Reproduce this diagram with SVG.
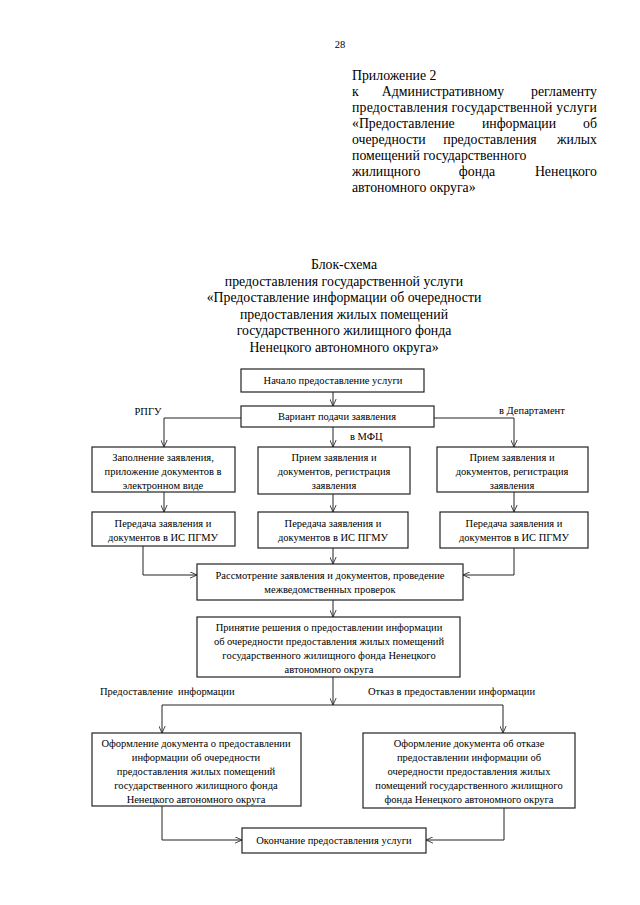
<svg xmlns="http://www.w3.org/2000/svg" width="640" height="905" viewBox="0 0 640 905">
<style>
  text { font-family: "Liberation Serif", "Times New Roman", serif; fill: #000; }
  .hd { font-size: 13.8px; }
  .t { font-size: 10.5px; text-anchor: middle; }
  .lbl { font-size: 10.5px; }
  .box { fill: #fff; stroke: #222; stroke-width: 1.2; }
  .ln { fill: none; stroke: #222; stroke-width: 1; }
  .c { text-anchor: middle; }
  .e { text-anchor: end; }
</style>
<defs>
  <marker id="arr" viewBox="0 0 10 10" refX="10" refY="5" markerWidth="7" markerHeight="7" orient="auto" markerUnits="userSpaceOnUse">
    <path d="M0,0.5 L10,5 L0,9.5" fill="none" stroke="#222" stroke-width="1.2"/>
  </marker>
</defs>
<rect width="640" height="905" fill="#fff"/>

<text x="340" y="48" class="c" style="font-size:10.5px">28</text>

<g id="appendix" class="hd">
  <text x="352" y="80">Приложение 2</text>
  <text x="352" y="96">к</text>
  <text x="443" y="96" class="c">Административному</text>
  <text x="597" y="96" class="e">регламенту</text>
  <text x="352" y="112" textLength="245" lengthAdjust="spacing">предоставления государственной услуги</text>
  <text x="352" y="128">«Предоставление</text>
  <text x="519" y="128" class="c">информации</text>
  <text x="597" y="128" class="e">об</text>
  <text x="352" y="144">очередности</text>
  <text x="490" y="144" class="c">предоставления</text>
  <text x="597" y="144" class="e">жилых</text>
  <text x="352" y="160">помещений государственного</text>
  <text x="352" y="176">жилищного</text>
  <text x="477" y="176" class="c">фонда</text>
  <text x="597" y="176" class="e">Ненецкого</text>
  <text x="352" y="192">автономного округа»</text>
</g>

<g id="title" class="hd c">
  <text x="344" y="269">Блок-схема</text>
  <text x="344" y="286">предоставления государственной услуги</text>
  <text x="344" y="302">«Предоставление информации об очередности</text>
  <text x="344" y="319">предоставления жилых помещений</text>
  <text x="344" y="335">государственного жилищного фонда</text>
  <text x="344" y="352">Ненецкого автономного округа»</text>
</g>

<g id="connectors">
  <path class="ln" d="M333,392 V406" marker-end="url(#arr)"/>
  <path class="ln" d="M241,418 H164 V447" marker-end="url(#arr)"/>
  <path class="ln" d="M333,427 V447" marker-end="url(#arr)"/>
  <path class="ln" d="M434,418 H514 V447" marker-end="url(#arr)"/>
  <path class="ln" d="M164,492 V512" marker-end="url(#arr)"/>
  <path class="ln" d="M333,494 V512" marker-end="url(#arr)"/>
  <path class="ln" d="M514,492 V512" marker-end="url(#arr)"/>
  <path class="ln" d="M143,546 V575 H197" marker-end="url(#arr)"/>
  <path class="ln" d="M333,548 V564" marker-end="url(#arr)"/>
  <path class="ln" d="M514,548 V575 H463" marker-end="url(#arr)"/>
  <path class="ln" d="M333,600 V617" marker-end="url(#arr)"/>
  <path class="ln" d="M333,677 V705" marker-end="url(#arr)"/>
  <path class="ln" d="M162,705 H503"/>
  <path class="ln" d="M162,705 V733" marker-end="url(#arr)"/>
  <path class="ln" d="M503,705 V733" marker-end="url(#arr)"/>
  <path class="ln" d="M162,806 V840 H242" marker-end="url(#arr)"/>
  <path class="ln" d="M504,808 V840 H426" marker-end="url(#arr)"/>
  <text x="148" y="415" class="lbl c">РПГУ</text>
  <text x="499" y="414" class="lbl">в Департамент</text>
  <text x="350" y="440" class="lbl">в МФЦ</text>
  <text x="100" y="695" class="lbl" xml:space="preserve">Предоставление  информации</text>
  <text x="368" y="695" class="lbl">Отказ в предоставлении информации</text>
</g>

<g id="start">
  <rect class="box" x="241" y="369" width="183" height="23"/>
  <text x="333" y="384" class="t">Начало предоставление услуги</text>
</g>
<g id="variant">
  <rect class="box" x="241" y="406" width="193" height="21"/>
  <text x="337" y="420" class="t">Вариант подачи заявления</text>
</g>

<g id="fill-left">
  <rect class="box" x="92" y="447" width="143" height="45"/>
  <text x="163" y="461" class="t">Заполнение заявления,</text>
  <text x="163" y="475" class="t">приложение документов в</text>
  <text x="163" y="489" class="t">электронном виде</text>
</g>
<g id="recv-mid">
  <rect class="box" x="258" y="447" width="152" height="47"/>
  <text x="334" y="461" class="t">Прием заявления и</text>
  <text x="334" y="475" class="t">документов, регистрация</text>
  <text x="334" y="489" class="t">заявления</text>
</g>
<g id="recv-right">
  <rect class="box" x="437" y="447" width="151" height="45"/>
  <text x="512" y="461" class="t">Прием заявления и</text>
  <text x="512" y="475" class="t">документов, регистрация</text>
  <text x="512" y="489" class="t">заявления</text>
</g>

<g id="send-left">
  <rect class="box" x="92" y="512" width="143" height="34"/>
  <text x="163" y="527" class="t">Передача заявления и</text>
  <text x="163" y="541" class="t">документов в ИС ПГМУ</text>
</g>
<g id="send-mid">
  <rect class="box" x="258" y="512" width="150" height="36"/>
  <text x="333" y="527" class="t">Передача заявления и</text>
  <text x="333" y="541" class="t">документов в ИС ПГМУ</text>
</g>
<g id="send-right">
  <rect class="box" x="440" y="512" width="148" height="36"/>
  <text x="514" y="527" class="t">Передача заявления и</text>
  <text x="514" y="541" class="t">документов в ИС ПГМУ</text>
</g>

<g id="review">
  <rect class="box" x="197" y="564" width="266" height="36"/>
  <text x="330" y="579" class="t">Рассмотрение заявления и документов, проведение</text>
  <text x="330" y="593" class="t">межведомственных проверок</text>
</g>

<g id="decision">
  <rect class="box" x="197" y="617" width="263" height="60"/>
  <text x="329" y="631" class="t">Принятие решения о предоставлении информации</text>
  <text x="329" y="645" class="t">об очередности предоставления жилых помещений</text>
  <text x="329" y="659" class="t">государственного жилищного фонда Ненецкого</text>
  <text x="329" y="673" class="t">автономного округа</text>
</g>

<g id="doc-provide">
  <rect class="box" x="92" y="733" width="209" height="73"/>
  <text x="196" y="747" class="t">Оформление документа о предоставлении</text>
  <text x="196" y="761" class="t">информации об очередности</text>
  <text x="196" y="775" class="t">предоставления жилых помещений</text>
  <text x="196" y="789" class="t">государственного жилищного фонда</text>
  <text x="196" y="803" class="t">Ненецкого автономного округа</text>
</g>

<g id="doc-refuse">
  <rect class="box" x="363" y="733" width="212" height="75"/>
  <text x="469" y="747" class="t">Оформление документа об отказе</text>
  <text x="469" y="761" class="t">предоставлении информации об</text>
  <text x="469" y="775" class="t">очередности предоставления жилых</text>
  <text x="469" y="789" class="t">помещений государственного жилищного</text>
  <text x="469" y="803" class="t">фонда Ненецкого автономного округа</text>
</g>

<g id="end">
  <rect class="box" x="242" y="828" width="184" height="25"/>
  <text x="334" y="844" class="t">Окончание предоставления услуги</text>
</g>
</svg>
